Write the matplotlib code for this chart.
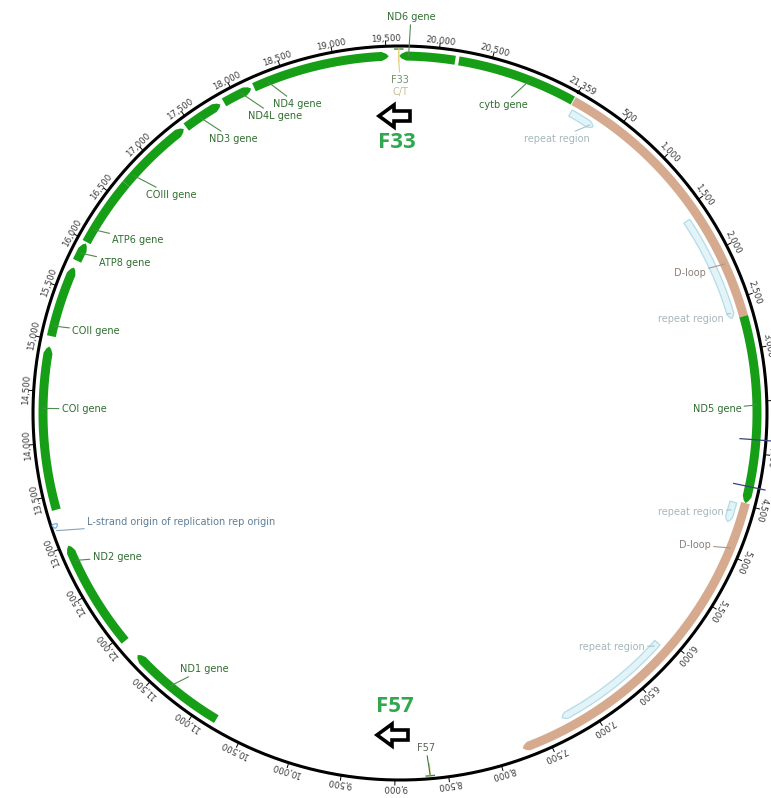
import numpy as np
import matplotlib
matplotlib.use("Agg")
import matplotlib.pyplot as plt
from matplotlib.patches import Polygon

GENOME_LEN = 21359

# protein coding genes (bp), strand +1 forward, -1 reverse, 0 no arrow
gene_names = ["ND1", "ND2", "COI", "COII", "ATP8", "ATP6", "COIII",
              "ND3", "ND4L", "ND4", "ND6", "cytb", "ND5"]
gene_starts = [10790, 11940, 13360, 15030, 15790, 15990, 16660,
               17450, 17880, 18200, 19625, 20195, 2680]
gene_ends = [11760, 13000, 14930, 15720, 15975, 16660, 17420,
             17840, 18170, 19525, 20160, 21350, 4480]
gene_strands = [1, 1, 1, 1, 1, 0, 1, 1, 1, 1, -1, 0, 1]
# where each gene label's leader meets the gene
gene_label_pos = [11332, 12845, 14337, 15129, 15871, 16126, 16768,
                  17610, 18066, 18339, 19714, 20896, 3536]

dloop_starts = [0, 4480]
dloop_ends = [2680, 7760]
dloop_strands = [0, 1]
dloop_label_pos = [2151, 4931]

repeat_starts = [30, 1610, 4500, 6090]
repeat_ends = [290, 2670, 4700, 7290]
repeat_label_pos = [254, 2618, 4580, 6135]

rep_origin = (13195, 13235)
rep_origin_label_pos = 13171

variant_names = ["F33", "F57"]
variant_pos = [19621, 8670]
variant_alleles = ["C/T", ""]

nd5_marks = [3869, 4320]

tick_pos = list(range(500, 21000, 500))
tick_text = [f"{p:,}" for p in tick_pos]
tick_pos.append(0)
tick_text.append(f"{GENOME_LEN:,}")

# ---- layout ----
W, H = 771, 798
CX, CY = 400, 413
RMAX = 400
R_CIRC = 367
R_FEAT = 357
R_REP = 345
OFFSET = 29.1

GREEN = "#169f16"
BROWN = "#d6aa8f"
REP_FILL = "#e2f4f8"
REP_EDGE = "#b4dce8"
GENE_TXT = "#2f6e2f"
GENE_LINE = "#4f8a4f"

# label centres in pixels (x, y from top-left)
gene_label_xy = [(204, 669), (117, 557), (84, 409), (96, 331), (125, 263),
                 (138, 240), (171, 195), (233, 139), (275, 116), (297, 104),
                 (411, 17), (503, 105), (717, 409)]
dloop_label_xy = [(690, 273), (695, 545)]
repeat_label_xy = [(557, 139), (691, 319), (691, 512), (612, 647)]


def theta(pos):
    return 2 * np.pi * np.asarray(pos, dtype=float) / GENOME_LEN


def arc_poly(start, end, r, hw, strand, head=7.0):
    t0, t1 = float(theta(start)), float(theta(end))
    h = min(head / r, (t1 - t0) * 0.6)
    a = t0 + h if strand < 0 else t0
    b = t1 - h if strand > 0 else t1
    ts = np.linspace(a, b, 150)
    n = len(ts)
    th = list(ts)
    rr = [r + hw] * n
    if strand > 0:
        th += [t1 - h * 0.35, t1, t1 - h * 0.35]
        rr += [r + hw * 0.55, r, r - hw * 0.55]
    th += list(ts[::-1])
    rr += [r - hw] * n
    if strand < 0:
        th += [t0 + h * 0.35, t0, t0 + h * 0.35]
        rr += [r - hw * 0.55, r, r + hw * 0.55]
    return np.array(th), np.array(rr)


fig = plt.figure(figsize=(W / 100, H / 100), dpi=100)
fig.patch.set_facecolor("white")
ax = fig.add_axes([(CX - RMAX) / W, (H - CY - RMAX) / H, 2 * RMAX / W, 2 * RMAX / H],
                  projection="polar")
ax.set_theta_zero_location("N", offset=-OFFSET)
ax.set_theta_direction(-1)
ax.set_ylim(0, RMAX)
ax.axis("off")

ov = fig.add_axes([0, 0, 1, 1])
ov.set_xlim(0, W)
ov.set_ylim(H, 0)
ov.axis("off")

# backbone circle and scale
full = np.linspace(0, 2 * np.pi, 1441)
ax.plot(full, np.full_like(full, R_CIRC), color="black", lw=2.2, zorder=3)
for p, s in zip(tick_pos, tick_text):
    t = float(theta(p))
    ax.plot([t, t], [R_CIRC, R_CIRC + 5], color="black", lw=0.7, zorder=3)
    ang = OFFSET + p / GENOME_LEN * 360
    ax.text(t, R_CIRC + 3, s, rotation=-ang, rotation_mode="anchor",
            ha="center", va="bottom", fontsize=6.2, color="#3a3a3a")

# D-loop
for s, e, st in zip(dloop_starts, dloop_ends, dloop_strands):
    th, rr = arc_poly(s, e, R_FEAT, 4.5, st, head=6)
    ax.fill(th, rr, color=BROWN, lw=0, zorder=2)

# genes
for s, e, st in zip(gene_starts, gene_ends, gene_strands):
    th, rr = arc_poly(s, e, R_FEAT, 4.5, st)
    ax.fill(th, rr, color=GREEN, lw=0, zorder=2)

# repeat regions
for s, e in zip(repeat_starts, repeat_ends):
    th, rr = arc_poly(s, e, R_REP, 3.5, 1, head=5)
    ax.fill(th, rr, facecolor=REP_FILL, edgecolor=REP_EDGE, lw=0.9, zorder=2)

# replication origin
th, rr = arc_poly(rep_origin[0], rep_origin[1], R_CIRC - 4, 2.5, -1, head=5)
ax.fill(th, rr, facecolor="white", edgecolor="#7fb0d8", lw=0.9, zorder=4)

# marks inside ND5
for p in nd5_marks:
    t = float(theta(p))
    ax.plot([t, t], [R_REP - 4, R_CIRC + 6], color="#33457a", lw=0.9, zorder=4)

# variant sites
for p in variant_pos:
    t = float(theta(p))
    w = 4.0 / R_FEAT
    ax.plot([t - w, t + w], [R_CIRC - 3, R_CIRC - 3], color="#3d8c3d", lw=1.0, zorder=4)
    ax.plot([t, t], [R_CIRC - 3, R_FEAT - 5], color="#e4cd78", lw=1.0, zorder=4)


def leader(text, pos, r, xy, color, line_color, fs=7):
    ax.annotate(text, xy=(float(theta(pos)), r), xytext=xy, textcoords=ov.transData,
                ha="center", va="center", fontsize=fs, color=color, zorder=5,
                arrowprops=dict(arrowstyle="-", color=line_color, lw=0.8,
                                shrinkA=0, shrinkB=0))


for name, p, xy in zip(gene_names, gene_label_pos, gene_label_xy):
    leader(f"{name} gene", p, R_FEAT, xy, GENE_TXT, GENE_LINE)
for p, xy in zip(dloop_label_pos, dloop_label_xy):
    leader("D-loop", p, R_FEAT, xy, "#8c8079", "#a8978c")
for p, xy in zip(repeat_label_pos, repeat_label_xy):
    leader("repeat region", p, R_REP, xy, "#a6b6bd", "#a6c4cc")
leader("L-strand origin of replication rep origin", rep_origin_label_pos, R_CIRC - 4,
       (181, 522), "#5d7f96", "#7fa6c4")

# variant labels
leader("F33", variant_pos[0], R_FEAT - 5, (400, 80), "#6f8f6f", "#e4cd78")
ov.text(400, 92, variant_alleles[0], ha="center", va="center", fontsize=7, color="#cbbd91")
leader("F57", variant_pos[1], R_CIRC - 3, (426, 748), "#566656", "#3d7a3d")

# highlighted sample markers
for name, (tx, ty), (ax0, ay) in zip(variant_names, [(397, 142), (395, 707)],
                                     [(379, 116), (377, 735)]):
    ov.text(tx, ty, name, ha="center", va="center", fontsize=16,
            fontweight="bold", family=["Open Sans", "DejaVu Sans"], color="#2fa84f")
    arrow = Polygon([(ax0, ay), (ax0 + 15, ay - 11), (ax0 + 15, ay - 5), (ax0 + 31, ay - 5),
                     (ax0 + 31, ay + 5), (ax0 + 15, ay + 5), (ax0 + 15, ay + 11)],
                    closed=True, facecolor="white", edgecolor="black", lw=2.6,
                    joinstyle="miter")
    ov.add_patch(arrow)

fig.savefig("out.png", dpi=100, facecolor="white")
